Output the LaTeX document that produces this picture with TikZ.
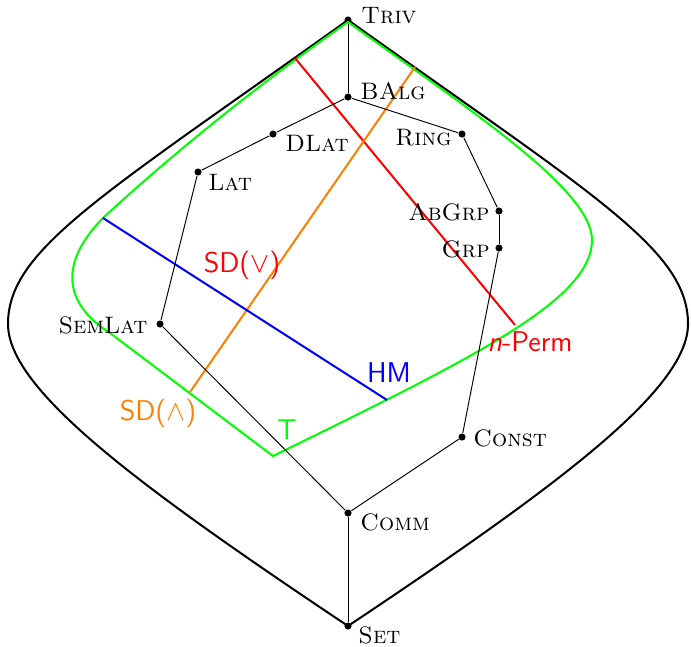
\documentclass[tikz,border=0pt]{standalone}
\usepackage{amssymb}
\begin{document}
\begin{tikzpicture}[x=0.42pt,y=-0.42pt,
  dot/.style={circle,fill=black,inner sep=0pt,minimum size=3pt},
  vlab/.style={inner sep=0pt,font=\normalsize},
  clab/.style={inner sep=0pt,font=\large\sffamily},
  edge/.style={line width=0.4pt},
  outer/.style={line width=0.85pt},
  cline/.style={line width=0.85pt}]
\useasboundingbox (0,0) rectangle (691,646);
% vertices
\node[dot] (triv) at (348,20) {};
\node[dot] (balg) at (348,97) {};
\node[dot] (dlat) at (273,134) {};
\node[dot] (ring) at (462,134) {};
\node[dot] (lat) at (198,172) {};
\node[dot] (abgrp) at (499,211) {};
\node[dot] (grp) at (499,248) {};
\node[dot] (semlat) at (160,324) {};
\node[dot] (const) at (462,437) {};
\node[dot] (comm) at (348,513) {};
\node[dot] (set) at (348,626) {};
% outer shape
\draw[outer] (triv.center) .. controls (100,197) and (8,250) .. (8,324)
  .. controls (8,390) and (140,487) .. (set.center)
  .. controls (556,487) and (688,390) .. (688,324)
  .. controls (688,250) and (596,197) .. (triv.center);
% green region
\draw[cline,green,line join=miter] (348,22) .. controls (250,90) and (160,165) .. (103,218)
  .. controls (59.8,262) and (62.2,302.5) .. (110,333) -- (273,456)
  .. controls (473,358) and (592,300) .. (592,240)
  .. controls (592,190) and (470,110) .. (348,22) -- cycle;
% coloured lines
\coordinate (r1) at (295,58); \coordinate (r2) at (515,325);
\coordinate (o1) at (415,67); \coordinate (o2) at (190,392);
\coordinate (b1) at (103,218); \coordinate (b2) at (387,400);
\draw[cline,red] (r1) -- (r2);
\draw[cline,orange] (o1) -- (o2);
\draw[cline,blue] (b1) -- (b2);
% graph edges
\draw[edge] (triv) -- (balg);
\draw[edge] (balg) -- (dlat);
\draw[edge] (balg) -- (ring);
\draw[edge] (dlat) -- (lat);
\draw[edge] (lat) -- (semlat);
\draw[edge] (ring) -- (abgrp);
\draw[edge] (abgrp) -- (grp);
\draw[edge] (grp) -- (const);
\draw[edge] (semlat) -- (comm);
\draw[edge] (const) -- (comm);
\draw[edge] (comm) -- (set);
% vertex labels
\node[vlab,anchor=west] (ltriv) at (361,16) {\textsc{Triv}};
\node[vlab,anchor=west] (lbalg) at (360,91) {\textsc{BAlg}};
\node[vlab,anchor=west] (ldlat) at (285,143) {\textsc{DLat}};
\node[vlab,anchor=east] (lring) at (452,138) {\textsc{Ring}};
\node[vlab,anchor=west] (llat) at (208,182) {\textsc{Lat}};
\node[vlab,anchor=east] (labgrp) at (490,212) {\textsc{AbGrp}};
\node[vlab,anchor=east] (lgrp) at (490,249) {\textsc{Grp}};
\node[vlab,anchor=east] (lsemlat) at (148,325) {\textsc{SemLat}};
\node[vlab,anchor=west] (lconst) at (473,438) {\textsc{Const}};
\node[vlab,anchor=west] (lcomm) at (360,522) {\textsc{Comm}};
\node[vlab,anchor=west] (lset) at (358,635) {\textsc{Set}};
% coloured labels
\node[clab,red] (lsdv) at (242,265) {SD($\vee$)};
\node[clab,red] (lperm) at (530,342) {\textit{n}-Perm};
\node[clab,blue] (lhm) at (389,373) {HM};
\node[clab,orange] (lsdw) at (158,413) {SD($\wedge$)};
\node[clab,green] (lt) at (287,430) {T};
\end{tikzpicture}
\end{document}
